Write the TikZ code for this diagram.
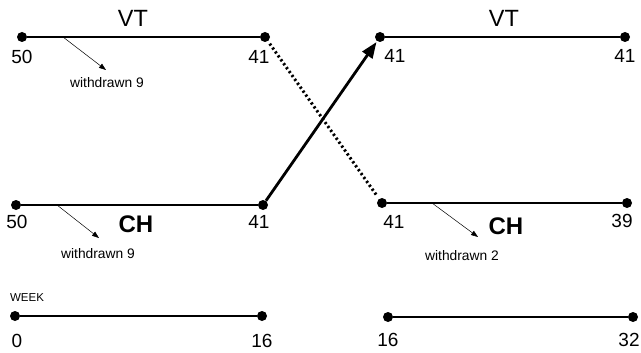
\documentclass[tikz,border=0pt]{standalone}
\usepackage{fontspec}
\setmainfont{Liberation Sans}
\usetikzlibrary{arrows.meta}
\begin{document}
\begin{tikzpicture}[x=1pt,y=-1pt,
  dot/.style={circle,fill=black,inner sep=0pt,minimum size=10pt},
  seg/.style={line width=1.4pt},
  num/.style={font=\fontsize{19}{19}\selectfont,inner sep=0pt},
  grp/.style={font=\fontsize{23.5}{23.5}\selectfont,inner sep=0pt},
  grpb/.style={font=\bfseries\fontsize{24}{24}\selectfont,inner sep=0pt},
  wd/.style={font=\fontsize{13.8}{13.8}\selectfont,inner sep=0pt},
  wk/.style={font=\fontsize{11.5}{11.5}\selectfont,inner sep=0pt},
  wdarrow/.style={line width=0.5pt,-{Triangle[length=7pt,width=5pt]}}]
\useasboundingbox (0,0) rectangle (641,353);
% VT left
\node[dot] (vtl1) at (22,37) {};
\node[dot] (vtl2) at (265,37) {};
\draw[seg] (vtl1) -- (vtl2);
\node[grp] (vtlab1) at (133,18) {VT};
\node[num] (n50a) at (22,57) {50};
\node[num] (n41a) at (259,57) {41};
\coordinate (wa1) at (63,37);
\coordinate (wa2) at (106,70);
\draw[wdarrow] (wa1) -- (wa2);
\node[wd] (wda) at (107,83) {withdrawn 9};
% VT right
\node[dot] (vtr1) at (380,37) {};
\node[dot] (vtr2) at (625,37) {};
\draw[seg] (vtr1) -- (vtr2);
\node[grp] (vtlab2) at (504,18) {VT};
\node[num] (n41b) at (395,56) {41};
\node[num] (n41c) at (625,56) {41};
% CH left
\node[dot] (chl1) at (16,205) {};
\node[dot] (chl2) at (263,205) {};
\draw[seg] (chl1) -- (chl2);
\node[grpb] (chlab1) at (136,224) {CH};
\node[num] (n50b) at (17,222) {50};
\node[num] (n41d) at (259,222) {41};
\coordinate (wb1) at (57,205);
\coordinate (wb2) at (99,238);
\draw[wdarrow] (wb1) -- (wb2);
\node[wd] (wdb) at (98,254) {withdrawn 9};
% CH right
\node[dot] (chr1) at (382,203) {};
\node[dot] (chr2) at (627,203) {};
\draw[seg] (chr1) -- (chr2);
\node[grpb] (chlab2) at (506,226) {CH};
\node[num] (n41e) at (394,222) {41};
\node[num] (n39) at (622,221) {39};
\coordinate (wc1) at (432,203);
\coordinate (wc2) at (478,237);
\draw[wdarrow] (wc1) -- (wc2);
\node[wd] (wdc) at (462,256) {withdrawn 2};
% crossover
\draw[line width=3pt,dash pattern=on 2.2pt off 2.6pt,shorten <=3pt,shorten >=3pt] (vtl2) -- (chr1);
\draw[line width=2.8pt,-{Triangle[length=16pt,width=12pt]},shorten >=1pt] (chl2) -- (vtr1);
% week axes
\node[wk] (week) at (27,298) {WEEK};
\node[dot] (w0) at (15,316) {};
\node[dot] (w16a) at (262,316) {};
\draw[seg] (w0) -- (w16a);
\node[num] (t0) at (17,341) {0};
\node[num] (t16a) at (262,341) {16};
\node[dot] (w16b) at (388,317) {};
\node[dot] (w32) at (633,317) {};
\draw[seg] (w16b) -- (w32);
\node[num] (t16b) at (388,340) {16};
\node[num] (t32) at (629,340) {32};
\end{tikzpicture}
\end{document}
